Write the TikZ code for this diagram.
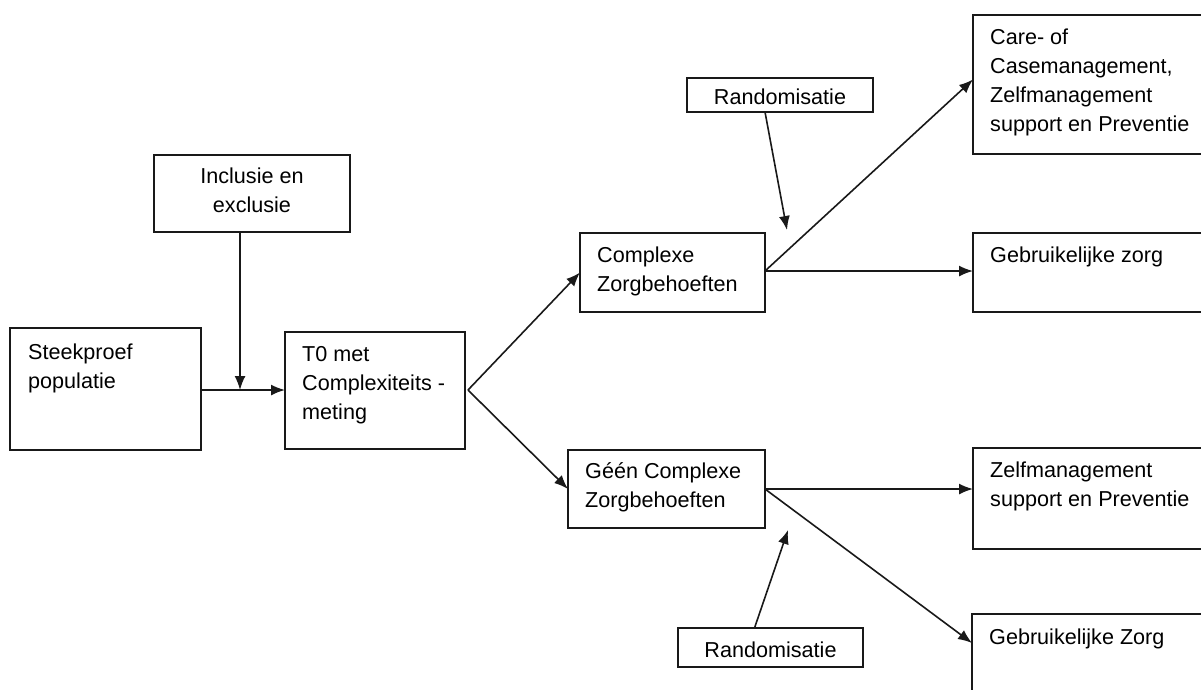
\documentclass[tikz,border=0pt]{standalone}
\usepackage{fontspec}
\setmainfont{Liberation Sans}
\usetikzlibrary{arrows.meta}
\begin{document}
\begin{tikzpicture}[x=1pt,y=-1pt,
  box/.style={draw=black!90,line width=1.7pt,inner sep=0pt,outer sep=0pt,anchor=north west,rectangle},
  txt/.style={inner sep=0pt,anchor=north west,align=left,font=\fontsize{21.6}{29}\selectfont},
  ctxt/.style={inner sep=0pt,align=center,font=\fontsize{21.6}{29}\selectfont},
  arr/.style={draw=black!90,line width=1.6pt,-{Latex[length=14pt,width=11pt]}}]
\useasboundingbox (0,0) rectangle (1201,689);
\clip (0,0) rectangle (1201,689);
% boxes
\node[box,minimum width=196pt,minimum height=77pt] (incl) at (154,155) {};
\node[box,minimum width=191pt,minimum height=122pt] (steek) at (10,328) {};
\node[box,minimum width=180pt,minimum height=117pt] (t0) at (285,332) {};
\node[box,minimum width=185pt,minimum height=79pt] (cz) at (580,233) {};
\node[box,minimum width=197pt,minimum height=78pt] (gcz) at (568,450) {};
\node[box,minimum width=186pt,minimum height=34pt] (rand1) at (687,78) {};
\node[box,minimum width=185pt,minimum height=39pt] (rand2) at (678,628) {};
\node[box,minimum width=240pt,minimum height=139pt] (care) at (973,15) {};
\node[box,minimum width=240pt,minimum height=79pt] (gz1) at (973,233) {};
\node[box,minimum width=240pt,minimum height=101pt] (zm) at (973,448) {};
\node[box,minimum width=240pt,minimum height=100pt] (gz2) at (972,614) {};
% texts
\node[ctxt] (incl-t) at ([yshift=3pt]incl.center) {Inclusie en\\exclusie};
\node[ctxt] (rand1-t) at ([yshift=-2pt]rand1.center) {Randomisatie};
\node[ctxt] (rand2-t) at ([yshift=-2pt]rand2.center) {Randomisatie};
\node[txt] (steek-t) at ([shift={(18,16)}]steek.north west) {Steekproef\\populatie};
\node[txt] (t0-t) at ([shift={(17,14)}]t0.north west) {T0 met\\Complexiteits -\\meting};
\node[txt] (cz-t) at ([shift={(17,14)}]cz.north west) {Complexe\\Zorgbehoeften};
\node[txt] (gcz-t) at ([shift={(17,12)}]gcz.north west) {Géén Complexe\\Zorgbehoeften};
\node[txt] (care-t) at ([shift={(17,14)}]care.north west) {Care- of\\Casemanagement,\\Zelfmanagement\\support en Preventie};
\node[txt] (gz1-t) at ([shift={(17,14)}]gz1.north west) {Gebruikelijke zorg};
\node[txt] (zm-t) at ([shift={(17,14)}]zm.north west) {Zelfmanagement\\support en Preventie};
\node[txt] (gz2-t) at ([shift={(17,15)}]gz2.north west) {Gebruikelijke Zorg};
% connector points
\coordinate (j) at (240,390);
\coordinate (t0out) at (468,390);
\coordinate (czout) at (765,271);
\coordinate (gczout) at (765,489);
\coordinate (r1end) at (787,230);
\coordinate (r2end) at (788,530);
% connectors
\draw[arr] (steek.east |- j) -- (t0.west |- j);
\draw[arr] (j |- incl.south) -- (j);
\draw[arr] (t0out) -- (cz.west);
\draw[arr] (t0out) -- (gcz.west);
\draw[arr] (czout) -- ([yshift=5pt]care.west);
\draw[arr] (czout) -- (czout -| gz1.west);
\draw[arr] ([xshift=-15pt]rand1.south) -- (r1end);
\draw[arr] (gczout) -- (gczout -| zm.west);
\draw[arr] (gczout) -- ([yshift=-29pt]gz2.north west);
\draw[arr] ([xshift=-16pt]rand2.north) -- (r2end);
\end{tikzpicture}
\end{document}
